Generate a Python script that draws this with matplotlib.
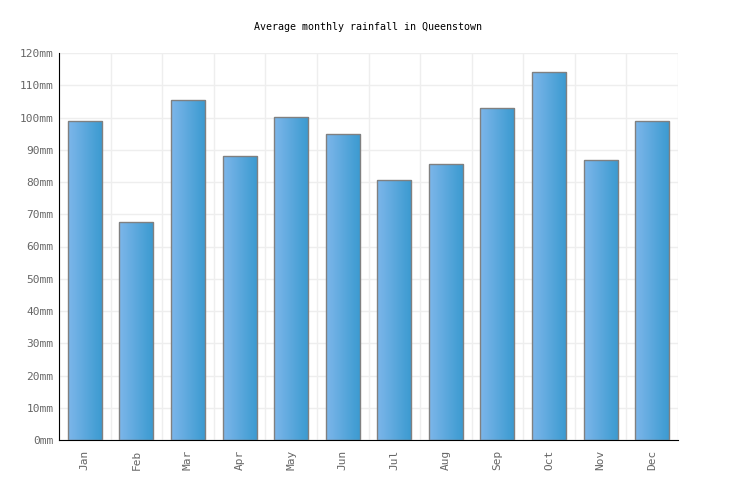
import numpy as np
import matplotlib
matplotlib.use("Agg")
from matplotlib import pyplot as plt
from matplotlib.colors import LinearSegmentedColormap

months = ["Jan", "Feb", "Mar", "Apr", "May", "Jun",
          "Jul", "Aug", "Sep", "Oct", "Nov", "Dec"]
rainfall = [98.9, 67.6, 105.4, 88.1, 100.2, 94.9,
            80.6, 85.6, 102.9, 114.1, 86.8, 98.9]
yticks = list(range(0, 130, 10))
ylabels = [f"{t}mm" for t in yticks]

plt.rcParams['font.family'] = ['DejaVu Sans Mono']

fig = plt.figure(figsize=(7.36, 5.0), dpi=100)
ax = fig.add_axes([0.0802, 0.12, 0.841, 0.774])

cmap = LinearSegmentedColormap.from_list("bar", ["#7db6ea", "#3a9ad0"])
grad = np.linspace(0, 1, 64).reshape(1, -1)

x = np.arange(len(months))
bars = ax.bar(x, rainfall, width=0.66, facecolor="none",
              edgecolor="#808080", linewidth=1.0, zorder=3)
for b in bars:
    x0, y0 = b.get_x(), b.get_y()
    im = ax.imshow(grad, cmap=cmap, aspect="auto", zorder=2,
                   extent=[x0, x0 + b.get_width(), y0, y0 + b.get_height()])
    im.set_clip_path(b)

ax.set_xlim(-0.5, len(months) - 0.5)
ax.set_ylim(0, 120)
ax.set_yticks(yticks)
ax.set_yticklabels(ylabels)
ax.set_xticks(x)
ax.set_xticklabels(months, rotation=90)
ax.set_xticks(np.arange(-0.5, len(months), 1), minor=True)

ax.grid(True, which="major", axis="y", color="#eeeeee", linewidth=1, zorder=0)
ax.grid(True, which="minor", axis="x", color="#eeeeee", linewidth=1, zorder=0)
ax.set_axisbelow(True)

for s in ["top", "right"]:
    ax.spines[s].set_visible(False)
ax.spines["left"].set_color("black")
ax.spines["bottom"].set_color("black")
ax.tick_params(axis="both", which="both", length=0, labelsize=8,
               labelcolor="#666666")
ax.tick_params(axis="y", pad=4)
ax.tick_params(axis="x", pad=7)

fig.text(0.5, 0.946, "Average monthly rainfall in Queenstown",
         ha="center", va="center", fontsize=7.2, color="black")

fig.savefig("out.png", dpi=100)
